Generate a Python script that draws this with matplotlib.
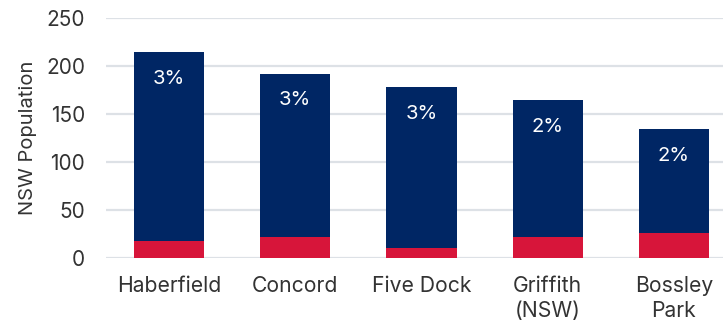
import matplotlib
matplotlib.use("Agg")
import matplotlib.pyplot as plt
import numpy as np

categories = ["Haberfield", "Concord", "Five Dock", "Griffith\n(NSW)", "Bossley\nPark"]
red_values = [18, 22, 11, 22, 26]
navy_values = [196, 170, 167, 142, 108]
pct_labels = ["3%", "3%", "3%", "2%", "2%"]
yticks = [0, 50, 100, 150, 200, 250]

plt.rcParams['font.family'] = ['Inter', 'DejaVu Sans']

W, H = 723, 322
fig = plt.figure(figsize=(W/100, H/100), dpi=100)
left = 106/W
bottom = (H-258.3)/H
top = (H-17.7)/H
ax = fig.add_axes([left, bottom, 1-left, top-bottom])

x = np.arange(len(categories))
navy = "#002664"
red = "#d7153a"
bw = 0.555
ax.bar(x, red_values, width=bw, color=red, zorder=3)
ax.bar(x, navy_values, width=bw, bottom=red_values, color=navy, zorder=3)

for xi, r, n, lab in zip(x, red_values, navy_values, pct_labels):
    ax.text(xi, r + n - 28, lab, ha='center', va='center', color='white', fontsize=14.5, zorder=4)

ax.set_ylim(0, 250)
ax.set_yticks(yticks)
ax.set_xlim(-0.5, (W - 106)/126.2 - 0.5)
ax.set_xticks(x)
ax.set_xticklabels(categories, fontsize=15.2, color='#333333', linespacing=1.3)
ax.tick_params(axis='y', length=0, pad=15, labelsize=15, labelcolor='#333333')
ax.tick_params(axis='x', length=0, pad=13)
ax.grid(axis='y', color='#dde1e6', linewidth=1.6, zorder=0)
for s in ax.spines.values():
    s.set_visible(False)
ax.set_ylabel("NSW Population", fontsize=14.5, color='#333333', labelpad=6.5)

fig.savefig("out.png", dpi=100)
